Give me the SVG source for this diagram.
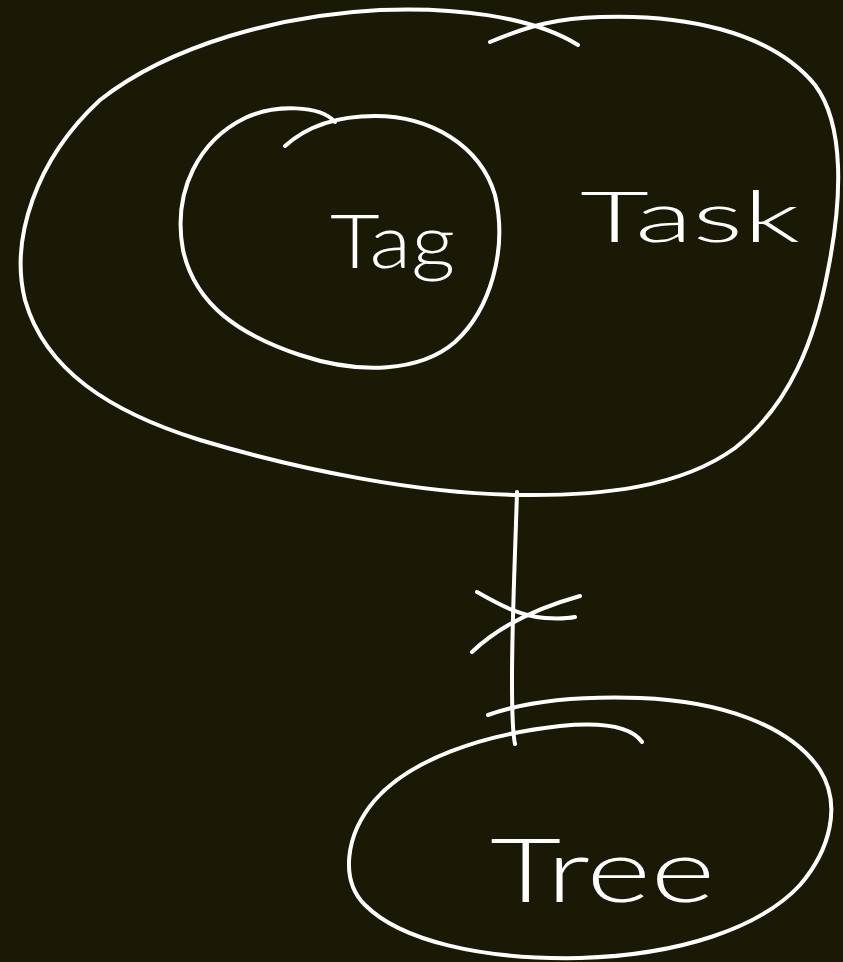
<svg xmlns="http://www.w3.org/2000/svg" width="843" height="962" viewBox="0 0 843 962">
<style>
.s{fill:none;stroke:#ffffff;stroke-width:4;stroke-linecap:round;stroke-linejoin:round}
.t{fill:#ffffff;font-family:"Lato","Inter","Liberation Sans",sans-serif;font-weight:300}
</style>
<rect x="0" y="0" width="843" height="962" fill="#1a1905"/>
<g id="task">
<path class="s" d="M490,42 C530,25 560,18 600,17 C680,14 770,30 815,85 C845,125 842,200 828,270 C815,340 790,405 735,448 C680,488 600,496 520,495 C420,494 300,470 200,440 C110,412 45,370 25,300 C10,240 35,160 100,100 C170,45 280,15 380,10 C450,7 530,15 578,45"/>
<text class="t" x="580" y="242" font-size="70" textLength="220" lengthAdjust="spacingAndGlyphs">Task</text>
</g>
<g id="tag">
<path class="s" d="M285,146 C305,128 335,116 375,116 C430,116 480,145 495,195 C508,250 490,310 455,342 C420,372 360,375 300,355 C240,335 195,305 183,250 C172,190 200,140 245,118 C275,104 320,105 335,122"/>
<text class="t" x="330" y="268" font-size="74" textLength="125" lengthAdjust="spacingAndGlyphs">Tag</text>
</g>
<g id="tree">
<path class="s" d="M488,715 C530,700 580,696 640,698 C720,701 790,725 820,770 C842,805 830,850 800,885 C760,928 680,955 580,958 C480,960 400,940 365,905 C340,880 345,835 375,800 C410,760 480,735 560,726 C600,722 630,725 642,742"/>
<text class="t" x="490" y="902" font-size="88" textLength="225" lengthAdjust="spacingAndGlyphs">Tree</text>
</g>
<g id="connectors">
<path class="s" d="M517,492 C515,560 512,620 512,680 C512,710 513,735 515,744"/>
<path class="s" d="M477,592 C500,605 520,616 545,618 C560,619 570,618 575,617"/>
<path class="s" d="M472,652 C495,630 530,610 580,596"/>
</g>
</svg>
